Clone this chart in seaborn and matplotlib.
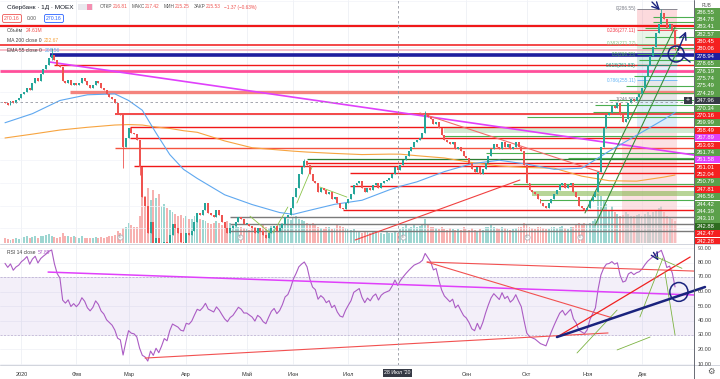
import numpy as np
import pandas as pd
import matplotlib
matplotlib.use("Agg")
import matplotlib.pyplot as plt
import seaborn as sns
from matplotlib.patches import Ellipse, Rectangle
from matplotlib.lines import Line2D

sns.set_theme(style="white")
plt.rcParams['font.family'] = ['Liberation Sans', 'DejaVu Sans']

# ---------------- data ----------------
holidays = ["2019-12-31", "2020-01-01", "2020-01-02", "2020-01-07", "2020-02-24",
            "2020-03-09", "2020-05-01", "2020-05-04", "2020-05-05", "2020-05-11",
            "2020-06-12", "2020-06-24", "2020-07-01", "2020-11-04"]

pre_close = [236.0, 237.5, 236.8, 238.0, 239.2, 238.5, 237.6, 239.0, 240.3, 241.0,
             242.2, 241.5, 243.0, 243.8, 243.1, 244.6, 245.3, 246.0, 244.8, 245.5]

c_dec19 = [245.0, 244.5, 246.0, 245.2, 246.5, 247.3]
c_jan = [249.0, 250.2, 252.0, 251.0, 254.0, 256.0, 255.0, 258.0, 260.0, 262.0,
         265.0, 266.5, 264.0, 262.0, 261.0, 255.0, 254.0, 255.2, 253.0, 254.0]
c_feb = [253.0, 254.0, 256.0, 255.0, 253.0, 252.0, 253.0, 255.0, 254.0, 252.0,
         251.0, 249.0, 248.0, 247.0, 245.0, 241.0, 240.0, 226.0, 230.0]
c_mar = [234.0, 232.0, 231.5, 229.0, 217.0, 204.0, 200.0, 188.0, 193.0, 182.0,
         186.0, 175.0, 179.0, 184.0, 180.0, 187.0, 192.0, 190.0, 188.0, 184.0, 183.0]
c_apr = [188.0, 187.0, 189.0, 193.0, 197.0, 196.0, 198.0, 201.0, 197.0, 196.0, 195.0,
         198.0, 196.0, 193.0, 190.0, 188.0, 190.0, 191.0, 193.0, 195.0, 194.0, 192.0]
c_may = [192.0, 191.0, 190.0, 188.0, 190.0, 189.0, 187.0, 186.0, 188.0, 190.0,
         191.0, 189.0, 190.0, 192.0, 195.0, 196.0, 199.0]
c_jun = [204.0, 208.0, 214.0, 217.0, 219.5, 218.0, 214.0, 211.0, 210.0, 206.0,
         208.0, 207.0, 205.0, 206.0, 203.0, 204.0, 201.0, 199.0, 198.5, 201.0]
c_jul = [203.0, 205.0, 209.0, 210.0, 211.0, 208.0, 206.0, 208.0, 207.0, 209.0, 210.0,
         208.0, 210.0, 211.0, 211.5, 212.0, 214.0, 216.9, 215.53, 218.0, 220.0, 222.0]
c_aug = [224.0, 226.0, 228.0, 229.0, 230.0, 232.0, 240.0, 239.0, 238.0, 236.0, 237.0,
         234.0, 231.0, 229.0, 228.0, 227.0, 228.0, 225.0, 226.0, 224.0, 222.0]
c_sep = [221.0, 219.0, 216.0, 215.0, 217.0, 214.0, 216.0, 219.0, 222.0, 225.0, 227.0,
         226.0, 225.0, 228.0, 226.0, 227.0, 225.0, 226.0, 228.0, 226.0, 224.0, 218.0]
c_oct = [210.0, 207.0, 206.0, 205.0, 203.0, 201.0, 200.0, 199.0, 201.0, 203.0, 205.0,
         207.0, 209.0, 210.0, 208.0, 209.0, 210.0, 206.0, 204.0, 200.0, 199.0, 198.0]
c_nov = [199.0, 202.0, 204.0, 206.0, 215.0, 226.0, 234.0, 240.0, 241.0, 244.0,
         243.0, 245.0, 240.0, 237.0, 238.0, 245.0, 247.0, 246.0, 248.0, 249.0]
c_dec = [252.0, 257.0, 262.0, 266.0, 270.0, 276.0, 280.0, 285.0, 282.0, 278.0,
         280.0, 277.0, 270.16]

v_dec19 = [12, 10, 8, 9, 13, 11]
v_jan = [14, 16, 18, 13, 15, 17, 14, 19, 18, 20, 22, 17, 16, 14, 15, 26, 19, 17, 16, 18]
v_feb = [15, 14, 17, 13, 14, 12, 13, 15, 14, 16, 13, 15, 17, 18, 20, 30, 25, 38, 42]
v_mar = [50, 45, 40, 42, 70, 150, 120, 140, 110, 135, 115, 125, 95, 100, 90, 85, 80,
         75, 70, 72, 65]
v_apr = [68, 60, 62, 70, 75, 60, 58, 55, 50, 48, 52, 56, 50, 45, 48, 55, 52, 46, 44,
         40, 42, 38]
v_may = [36, 34, 40, 42, 38, 35, 45, 40, 38, 44, 35, 40, 45, 50, 55, 60, 58]
v_jun = [65, 70, 62, 58, 55, 50, 48, 52, 45, 40, 38, 35, 42, 40, 36, 38, 45, 44, 40, 38]
v_jul = [35, 32, 36, 30, 28, 26, 30, 28, 25, 27, 30, 28, 26, 24, 28, 26, 25, 30, 24.61,
         35, 40, 45]
v_aug = [38, 42, 45, 40, 44, 48, 60, 48, 42, 40, 38, 35, 40, 36, 34, 38, 35, 32, 36, 34, 40]
v_sep = [36, 34, 38, 32, 30, 35, 33, 40, 42, 45, 40, 38, 36, 42, 38, 35, 34, 36, 38, 40,
         42, 50]
v_oct = [45, 40, 38, 36, 42, 40, 38, 35, 36, 40, 42, 38, 40, 44, 38, 36, 40, 42, 45, 50,
         48, 52]
v_nov = [45, 50, 55, 60, 125, 120, 110, 100, 85, 95, 80, 75, 70, 72, 80, 75, 70, 68, 72, 75]
v_dec = [70, 75, 80, 72, 78, 85, 90, 95, 80, 70, 65, 60, 55]

wick_dates = ["2020-01-21", "2020-02-27", "2020-03-06", "2020-06-05", "2020-08-11",
              "2020-12-10", "2020-12-17"]
wick_high = [269.4, 240.0, 229.0, 220.5, 241.5, 286.55, 277.0]
wick_low = [264.0, 216.6, 213.5, 217.0, 232.0, 282.0, 268.5]

# moving averages read at sample bars
ma_idx = [0, 10, 20, 30, 40, 45, 50, 55, 60, 65, 70, 80, 90, 100, 105, 110, 120, 130,
          140, 144, 150, 160, 170, 180, 190, 200, 210, 220, 230, 240, 244]
ema55 = [236.5, 240.5, 246.3, 248.8, 249.2, 246.3, 242.0, 232.0, 222.5, 216.0, 212.0,
         204.8, 200.5, 197.0, 196.2, 197.7, 200.6, 202.4, 207.0, 208.56, 210.5, 215.0,
         218.5, 220.0, 218.3, 216.0, 216.5, 224.0, 231.0, 238.0, 241.0]
ma200 = [229.8, 231.5, 233.3, 234.5, 235.5, 235.7, 235.5, 234.6, 234.0, 233.0, 232.3,
         228.5, 225.5, 224.5, 224.0, 223.6, 223.0, 222.5, 222.7, 222.67, 222.0, 221.0,
         219.0, 217.5, 216.8, 216.5, 213.0, 211.0, 210.8, 212.6, 213.5]

# horizontal levels: price, start bar, colour, width
level_price = [279.1, 270.7, 268.5, 266.3, 261.9, 259.3, 250.0, 240.4, 234.6, 229.8,
               225.4, 220.6, 218.8, 217.5, 214.4, 208.6, 198.1, 195.0, 192.0, 188.9]
level_start = [-2, -2, -2, 16.4, 18, -2, 23.7, 40, 45.5, 45.5, 40, 110, 110, 47,
               125.6, 125.6, 123, 82, 82, 82]
level_color = ['#f01818', '#f01818', '#f7b3bf', '#1f1f9e', '#f01818', '#ff4f9a',
               '#f4837d', '#f01818', '#f01818', '#f01818', '#f5533f', '#2e7d32',
               '#f01818', '#f01818', '#f01818', '#f01818', '#f01818', '#7a7a7a',
               '#7a7a7a', '#7a7a7a']
level_lw = [1.6, 1.1, 1.2, 2.6, 1.0, 2.0, 2.4, 1.1, 1.0, 1.0, 1.0, 0.9, 1.0, 1.0, 1.0,
            1.0, 1.0, 1.0, 1.0, 1.0]
green_price = [283.0, 280.8, 278.2, 274.2, 269.4, 264.1, 257.1, 252.7, 249.6, 246.5,
               244.3, 241.2, 239.0, 230.7, 223.2, 221.0, 209.5, 202.5]
green_start = [236, 236, 233, 233, 232, 231, 229, 226, 224, 220, 215, 214, 190, 160,
               175, 205, 185, 195]

fib_k = [0, 0.236, 0.382, 0.5, 0.618, 0.786, 1]
fib_top, fib_bottom = 286.55, 246.55
fib_color = ['#787b86', '#f23645', '#81c784', '#4caf50', '#089981', '#64b5f6', '#787b86']

main_lines = [  # x0, p0, x1, p1, colour, width
    (16.4, 263.2, 250.9, 222.3, '#e040fb', 1.2),
    (151.1, 240.8, 216.7, 214.8, '#f26b6b', 0.8),
    (127.5, 184.9, 187.5, 211.3, '#f04040', 0.8),
    (211.2, 196.8, 244.0, 278.6, '#388e3c', 0.8),
    (214.9, 191.5, 245.8, 270.7, '#388e3c', 0.8),
    (89.2, 195.4, 96.5, 188.0, '#8bc34a', 0.6),
    (97.6, 188.0, 103.0, 199.4, '#8bc34a', 0.6),
    (106.3, 201.2, 111.8, 217.0, '#8bc34a', 0.6),
    (114.7, 208.2, 124.5, 203.8, '#8bc34a', 0.6),
]
rsi_lines = [
    (15.7, 73.4, 250.9, 57.6, '#e040fb', 1.1),
    (51.0, 14.1, 219.6, 31.4, '#f25050', 0.8),
    (153.7, 80.3, 250.9, 74.1, '#f25050', 0.8),
    (153.7, 80.3, 221.4, 41.7, '#f25050', 0.8),
    (201.0, 28.6, 249.5, 83.8, '#f02020', 0.9),
    (208.3, 17.6, 222.9, 47.2, '#7cb342', 0.6),
    (222.9, 19.7, 234.9, 28.6, '#7cb342', 0.6),
    (231.2, 42.4, 239.6, 83.1, '#7cb342', 0.6),
    (240.3, 73.4, 244.0, 30.0, '#7cb342', 0.6),
    (237.0, 84.0, 246.5, 76.0, '#7cb342', 0.6),
]

axis_labels = ["286.55", "284.78", "283.41", "282.57", "280.45", "280.06", "278.94",
               "278.65", "276.19", "275.74", "275.49", "274.29", "247.96", "270.34",
               "270.16", "269.99", "268.49", "267.89", "263.63", "261.74", "261.58",
               "261.01", "252.04", "250.79", "247.81", "246.56", "244.42", "244.39",
               "243.10", "242.88", "242.47", "242.28"]
axis_colors = ['#5ba04a', '#5ba04a', '#5ba04a', '#5ba04a', '#f42020', '#f42020',
               '#1f1f9e', '#5ba04a', '#5ba04a', '#5ba04a', '#5ba04a', '#5ba04a',
               '#363a45', '#5ba04a', '#f42020', '#5ba04a', '#f42020', '#e040fb',
               '#f42020', '#5ba04a', '#e040fb', '#f42020', '#f42020', '#5ba04a',
               '#f42020', '#5ba04a', '#5ba04a', '#5ba04a', '#5ba04a', '#2e6b1f',
               '#f42020', '#f42020']
month_names = ["2020", "Фев", "Мар", "Апр", "Май", "Июн", "Июл", "Сен", "Окт", "Ноя", "Дек"]
month_num = [1, 2, 3, 4, 5, 6, 7, 9, 10, 11, 12]

# ---------------- derived ----------------
close = np.array(c_dec19 + c_jan + c_feb + c_mar + c_apr + c_may + c_jun + c_jul +
                 c_aug + c_sep + c_oct + c_nov + c_dec)
vol = np.array(v_dec19 + v_jan + v_feb + v_mar + v_apr + v_may + v_jun + v_jul +
               v_aug + v_sep + v_oct + v_nov + v_dec, dtype=float)
dates = pd.bdate_range("2019-12-23", "2020-12-17")
dates = dates[~dates.isin(pd.to_datetime(holidays))]
n = min(len(close), len(vol), len(dates))
close, vol, dates = close[:n], vol[:n], dates[:n]
idx = np.arange(n)
opn = np.r_[pre_close[-1], close[:-1]]
body_hi = np.maximum(opn, close)
body_lo = np.minimum(opn, close)
hi = body_hi.copy()
lo = body_lo.copy()
for d, h, l in zip(wick_dates, wick_high, wick_low):
    k = np.where(dates == pd.Timestamp(d))[0]
    if len(k):
        hi[k[0]] = max(hi[k[0]], h)
        lo[k[0]] = min(lo[k[0]], l)
up = close >= opn
col = np.where(up, '#26a69a', '#ef5350')

full = pd.Series(list(pre_close) + list(close))
delta = full.diff()
gain = delta.clip(lower=0).ewm(alpha=1 / 14, adjust=False).mean()
loss = (-delta.clip(upper=0)).ewm(alpha=1 / 14, adjust=False).mean()
rsi = (100 - 100 / (1 + gain / loss)).values[len(pre_close):]

# ---------------- figure ----------------
W, H = 720, 379
fig = plt.figure(figsize=(7.2, 3.79), dpi=100, facecolor='white')
fx = lambda px: px / W
fy = lambda py: 1 - py / H
XL = (-1.82, 250.9)

axv = fig.add_axes([0, fy(243), fx(694), 243 / H])
ax = fig.add_axes([0, fy(243), fx(694), 243 / H], sharex=axv)
axr = fig.add_axes([0, fy(365), fx(694), 120 / H])
for a in (ax, axv, axr):
    a.set_xlim(*XL)
    a.patch.set_visible(False)
    for s in a.spines.values():
        s.set_visible(False)
    a.tick_params(left=False, right=False, labelleft=False, labelright=False,
                  bottom=False, labelbottom=False)
ax.set_ylim(183.59, 290.51)
axv.set_ylim(0, 620)
axr.set_ylim(9.31, 92.07)

yr = dates[dates.year == 2020]
month_idx = [int(np.where((dates.year == 2020) & (dates.month == m))[0][0]) for m in month_num]
for a in (ax, axr):
    for m in month_idx:
        a.axvline(m, color='#eef0f5', lw=0.6, zorder=0)
for p in range(190, 291, 10):
    ax.axhline(p, color='#f1f3f8', lw=0.5, zorder=0)
for r in range(10, 91, 10):
    axr.axhline(r, color='#eef0f5', lw=0.5, zorder=0)

# volume
axv.bar(idx, vol, width=0.7, color=col, alpha=0.45, lw=0)

# shading zones on right
ax.add_patch(Rectangle((224.7, 183.59), 20.0, 232 - 183.59, color='#f9c9cd', alpha=0.55, lw=0, zorder=1))
ax.add_patch(Rectangle((230.2, 232.0), 14.5, 14.55, color='#cfe6f7', alpha=0.7, lw=0, zorder=1))
ax.add_patch(Rectangle((160, 232.0), 91, 2.0, color='#c8e6c9', alpha=0.8, lw=0, zorder=1))
ax.add_patch(Rectangle((192, 204.3), 59, 2.2, color='#7cb342', alpha=0.55, lw=0, zorder=1))
fib_p = [fib_top - k * (fib_top - fib_bottom) for k in fib_k]
for i in range(len(fib_k) - 1):
    ax.add_patch(Rectangle((230.2, fib_p[i + 1]), 14.5, fib_p[i] - fib_p[i + 1],
                           color=fib_color[i + 1], alpha=0.18, lw=0, zorder=1))

# levels
for p, s, c, w in zip(level_price, level_start, level_color, level_lw):
    ax.hlines(p, s, XL[1], colors=c, lw=w, zorder=2)
for p, s in zip(green_price, green_start):
    ax.hlines(p, s, XL[1], colors='#4caf50', lw=0.8, zorder=2)
for k, p, c in zip(fib_k, fib_p, fib_color):
    ax.hlines(p, 230.2, 244.7, colors=c, lw=0.6, zorder=2)
    ax.text(229.8, p, f"{k}({p:.2f})", color=c, fontsize=3.4, ha='right', va='center', zorder=6)

# drawings
for x0, p0, x1, p1, c, w in main_lines:
    ax.plot([x0, x1], [p0, p1], color=c, lw=w, zorder=3)

# moving averages
sns.lineplot(x=ma_idx, y=ma200, ax=ax, color='#f7a440', lw=0.8, sort=False, zorder=3)
sns.lineplot(x=ma_idx, y=ema55, ax=ax, color='#5fa8f0', lw=0.8, sort=False, zorder=3)

# candles
ax.vlines(idx, lo, hi, colors=col, lw=0.6, zorder=4)
ax.bar(idx, np.maximum(body_hi - body_lo, 0.2), bottom=body_lo, width=0.72, color=col,
       lw=0, zorder=5)

# crosshair
ax.axvline(143, color='#9598a1', lw=0.6, ls=(0, (3, 3)), zorder=6)
axr.axvline(143, color='#9598a1', lw=0.6, ls=(0, (3, 3)), zorder=6)
ax.axhline(245.8, color='#9598a1', lw=0.6, ls=(0, (3, 3)), zorder=6)

# hand drawn marks
navy = '#1a237e'
ax.annotate('', xy=(239.2, 285.2), xytext=(234.9, 290.5),
            arrowprops=dict(arrowstyle='->', color=navy, lw=1.0), annotation_clip=False)
ax.annotate('', xy=(248.4, 277.8), xytext=(244.7, 267.2),
            arrowprops=dict(arrowstyle='->', color=navy, lw=1.0))
ax.plot([245.1, 249.5], [267.2, 263.2], color=navy, lw=1.0, zorder=7)
ax.add_patch(Ellipse((244.4, 266.75), 5.8, 7.0, fill=False, ec=navy, lw=1.1, zorder=7))

# event markers
for e in [41.9, 85.6, 144.9, 190.0, 209.4]:
    ax.scatter([e], [186.2], s=14, facecolor='white', edgecolor='#b0b3bb', lw=0.6, zorder=8)
    ax.text(e, 186.2, 'E', fontsize=2.6, color='#888', ha='center', va='center', zorder=9)

# RSI pane
axr.axhspan(30, 70, color='#7e57c2', alpha=0.09, lw=0, zorder=0)
axr.axhline(70, color='#b7a9cf', lw=0.5, ls=(0, (3, 2)))
axr.axhline(30, color='#b7a9cf', lw=0.5, ls=(0, (3, 2)))
sns.lineplot(x=idx, y=rsi, ax=axr, color='#ab5cc4', lw=0.8, zorder=3)
for x0, p0, x1, p1, c, w in rsi_lines:
    axr.plot([x0, x1], [p0, p1], color=c, lw=w, zorder=4)
axr.plot([201.0, 254.9], [28.6, 63.1], color=navy, lw=1.8, zorder=5, clip_on=False)
axr.add_patch(Ellipse((245.4, 59.7), 6.6, 13.0, fill=False, ec=navy, lw=1.1, zorder=6))
axr.annotate('', xy=(238.5, 79.7), xytext=(235.6, 88.6),
             arrowprops=dict(arrowstyle='->', color=navy, lw=1.0))

# time axis
for m, name in zip(month_idx, month_names):
    axr.text(m, -0.06, name, transform=axr.get_xaxis_transform(), fontsize=4.0,
             color='#333333', ha='center', va='top')
axr.text(143, -0.045, "28 Июл '20", transform=axr.get_xaxis_transform(), fontsize=3.8,
         color='white', ha='center', va='top',
         bbox=dict(boxstyle='square,pad=0.25', fc='#363a45', ec='none'))

# separators
for y in (244, 365):
    fig.add_artist(Line2D([0, fx(720)], [fy(y), fy(y)], color='#d1d4dc', lw=0.7))
fig.add_artist(Line2D([fx(694), fx(694)], [fy(0), fy(379)], color='#50535e', lw=0.6))

# right price labels
for i, (t, c) in enumerate(zip(axis_labels, axis_colors)):
    yc = 12 + i * 7.39
    fig.add_artist(Rectangle((fx(694.5), fy(yc + 3.6)), 25.5 / W, 7.1 / H, color=c,
                             transform=fig.transFigure, lw=0))
    fig.text(fx(697), fy(yc), t, fontsize=4.2, color='white', va='center', ha='left')
fig.add_artist(Rectangle((fx(684), fy(12 + 12 * 7.39 + 3.6)), 8 / W, 7.1 / H, color='#363a45',
                         transform=fig.transFigure, lw=0))
fig.text(fx(688), fy(12 + 12 * 7.39), '+', fontsize=5, color='white', ha='center', va='center')
fig.text(fx(707), fy(5.5), 'RUB', fontsize=3.3, color='#555', ha='center', va='center')
for v in range(10, 91, 10):
    fig.text(fx(698), fy(364 - (v - 10) * 1.45), f"{v:.2f}", fontsize=4.0,
             color='#444', va='center', ha='left')
fig.text(fx(711), fy(372), '⚙', fontsize=6, color='#555', ha='center', va='center')

# header
fig.canvas.draw()
rend = fig.canvas.get_renderer()


def run_text(x, y, parts, size, gap=0.0):
    for t, c, extra in parts:
        tt = fig.text(fx(x), fy(y), t, fontsize=size, color=c, va='center', ha='left')
        x += tt.get_window_extent(rend).width + gap + extra


fig.text(fx(7), fy(7), "Сбербанк · 1Д · MOEX", fontsize=4.6, color='#131722', va='center')
fig.add_artist(Rectangle((fx(78), fy(10)), 15 / W, 6 / H, color='#e9e9ee',
                         transform=fig.transFigure, lw=0))
fig.add_artist(Rectangle((fx(87), fy(10)), 5 / W, 6 / H, color='#f48fb1',
                         transform=fig.transFigure, lw=0))
g, r_ = '#555555', '#ef5350'
run_text(100, 7, [("ОТКР", g, 0.3), ("216.81", r_, 4), ("МАКС", g, 0.3), ("217.42", r_, 4),
                  ("МИН", g, 0.3), ("215.25", r_, 4), ("ЗАКР", g, 0.3), ("215.53", r_, 3),
                  ("−1.37 (−0.63%)", r_, 0)], 3.4)
fig.text(fx(12), fy(18.5), "270.16", fontsize=3.7, color='#ef5350', ha='center', va='center',
         bbox=dict(boxstyle='round,pad=0.3', fc='white', ec='#ef5350', lw=0.6))
fig.text(fx(32), fy(18.5), "0.00", fontsize=3.6, color='#555', ha='center', va='center')
fig.text(fx(54), fy(18.5), "270.16", fontsize=3.7, color='#2962ff', ha='center', va='center',
         bbox=dict(boxstyle='round,pad=0.3', fc='white', ec='#2962ff', lw=0.6))
legend_rows = [("Объём", "24.61M", '#ef5350', 30), ("MA 200 close 0", "222.67", '#f7a440', 40),
               ("EMA 55 close 0", "208.56", '#5fa8f0', 50), ("RSI 14 close", "57.89", '#ab5cc4', 252)]
for name, val, c, y in legend_rows:
    run_text(7, y, [(name, '#444444', 2.5), (val, c, 0)], 3.6)

fig.savefig("out.png", dpi=100, facecolor='white')
